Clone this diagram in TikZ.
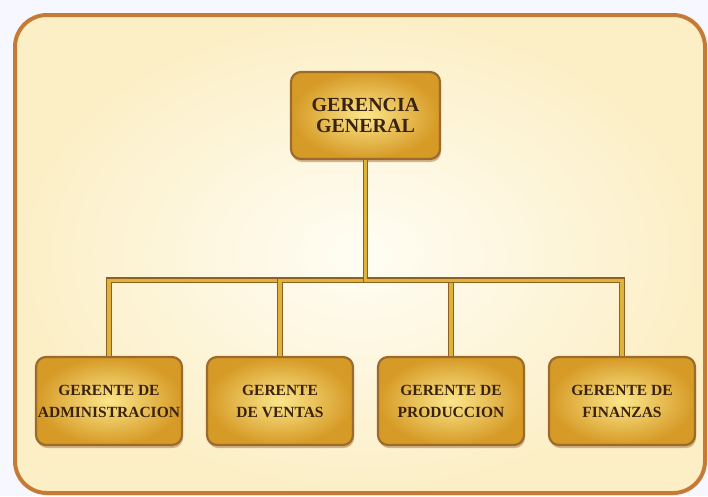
\documentclass[tikz,border=0pt]{standalone}
\usepackage{fontspec}
\setmainfont{Liberation Serif}
\usetikzlibrary{shadows}

\definecolor{marco}{HTML}{C57A36}
\definecolor{cremaclaro}{HTML}{FFFDF4}
\definecolor{crema}{HTML}{FCEFC6}
\definecolor{oroclaro}{HTML}{FBE68A}
\definecolor{oro}{HTML}{D69A26}
\definecolor{bordecaja}{HTML}{9C6A2C}
\definecolor{textocafe}{HTML}{3A2210}
\definecolor{lineaoro}{HTML}{E0B23C}
\definecolor{lineaborde}{HTML}{8C6222}

\begin{document}
\begin{tikzpicture}[
  grow=down,
  level distance=285.5pt,
  sibling distance=171pt,
  edge from parent path={(\tikzparentnode.south) -- ++(0,-120pt) -| (\tikzchildnode.north)},
  edge from parent/.style={draw=lineaborde, line width=5.4pt, postaction={draw=lineaoro, line width=3.2pt}},
  %  estilos de los cuadros
  caja_style/.style={rectangle, rounded corners=10pt, draw=bordecaja, line width=2.2pt,
    inner color=oroclaro, outer color=oro, text=textocafe, align=center, inner sep=0pt,
    drop shadow={shadow xshift=1pt, shadow yshift=-3pt, fill=bordecaja, opacity=0.45}},
  gerencia_style/.style={caja_style, minimum width=149pt, minimum height=87pt,
    font=\fontsize{20}{20.5}\selectfont\bfseries},
  gerente_style/.style={caja_style, minimum width=146pt, minimum height=88pt,
    font=\fontsize{15.5}{22}\selectfont\bfseries},
  marco_style/.style={draw=marco, line width=4pt, rounded corners=32pt,
    inner color=cremaclaro, outer color=crema}
]
\useasboundingbox[fill=white!97!blue] (0,0) rectangle (708pt,-496pt);

%  marco de fondo
\draw[marco_style] (15pt,-15pt) rectangle (705pt,-493pt);

\node[gerencia_style] (gerencia) at (365.5pt,-115.5pt) {GERENCIA\\GENERAL}
    child {
        node[gerente_style] (administracion) {GERENTE DE\\ADMINISTRACION}
    }
    child {
        node[gerente_style] (ventas) {GERENTE\\DE VENTAS}
    }
    child {
        node[gerente_style] (produccion) {GERENTE DE\\PRODUCCION}
    }
    child {
        node[gerente_style] (finanzas) {GERENTE DE\\FINANZAS}
    };
\end{tikzpicture}
\end{document}
